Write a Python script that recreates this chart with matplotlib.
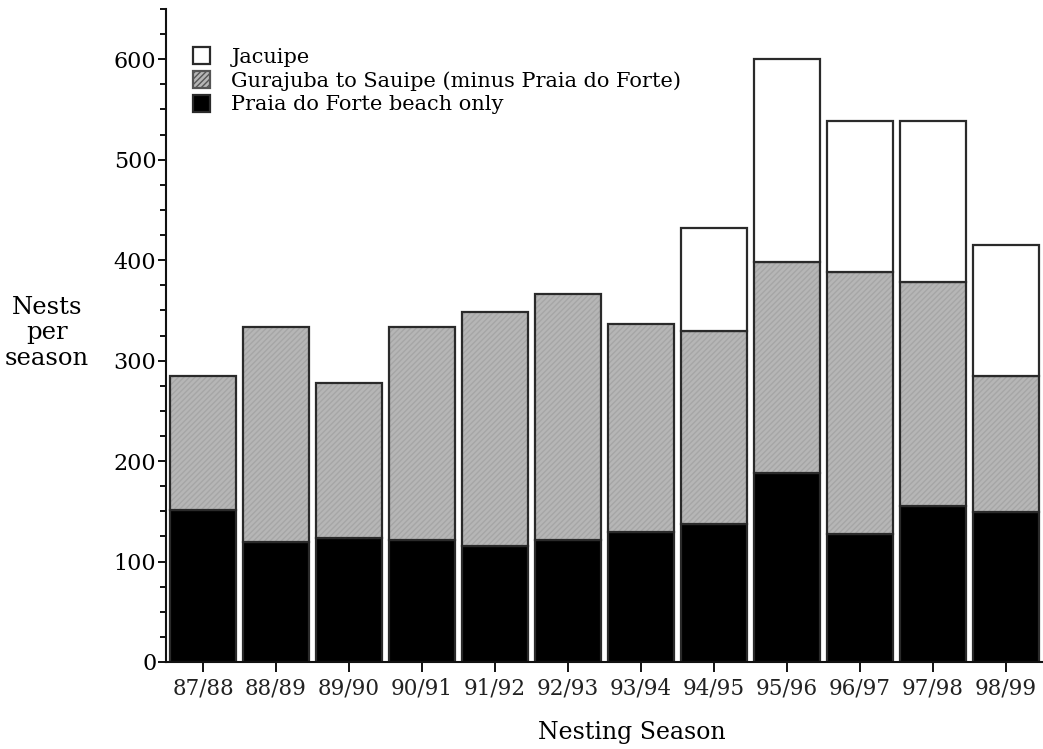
import matplotlib
matplotlib.use("Agg")
import matplotlib.pyplot as plt
from matplotlib.patches import Patch
from matplotlib.ticker import MultipleLocator
import numpy as np

seasons = ["87/88", "88/89", "89/90", "90/91", "91/92", "92/93",
           "93/94", "94/95", "95/96", "96/97", "97/98", "98/99"]
praia_do_forte = [151, 119, 123, 121, 115, 121, 129, 137, 188, 127, 155, 149]
gurajuba_sauipe = [134, 214, 155, 212, 233, 245, 207, 192, 210, 261, 223, 136]
jacuipe = [0, 0, 0, 0, 0, 0, 0, 103, 202, 151, 161, 130]

legend_labels = ["Jacuipe", "Gurajuba to Sauipe (minus Praia do Forte)",
                 "Praia do Forte beach only"]

plt.rcParams['font.family'] = ['DejaVu Serif']
plt.rcParams['hatch.linewidth'] = 1.0

fig = plt.figure(figsize=(10.43, 7.49), dpi=100)
ax = fig.add_axes([166/1043, 1 - 662/749, 1 - 166/1043, (662 - 9)/749])

x = np.arange(len(seasons))
w = 0.9
pdf = np.array(praia_do_forte)
gs = np.array(gurajuba_sauipe)
jc = np.array(jacuipe)

edge = '#2a2a2a'
lw = 1.6
ax.bar(x, pdf, w, color='black', edgecolor=edge, linewidth=lw, zorder=2)
ax.bar(x, gs, w, bottom=pdf, color='#b6b6b6', edgecolor='#a6a6a6',
       hatch='//////', linewidth=0, zorder=2)
ax.bar(x, gs, w, bottom=pdf, fill=False, edgecolor=edge, linewidth=lw, zorder=3)
mask = jc > 0
ax.bar(x[mask], jc[mask], w, bottom=(pdf + gs)[mask], color='white',
       edgecolor=edge, linewidth=lw, zorder=3)

ax.set_xlim((166 - 203) / 73, (1043 - 203) / 73)
ax.set_ylim(0, 650)
ax.set_xticks(x)
ax.set_xticklabels(seasons, fontsize=15.5, color='#222222')
ax.yaxis.set_minor_locator(MultipleLocator(25))
ax.set_yticks([0, 100, 200, 300, 400, 500, 600])
ax.tick_params(axis='y', which='major', labelsize=16, length=6, width=1.3, direction='out', pad=1)
ax.tick_params(axis='y', which='minor', length=4, width=1.3, direction='out')
ax.tick_params(axis='x', length=7, width=1.3, direction='out', pad=4)
for s in ['top', 'right']:
    ax.spines[s].set_visible(False)
for s in ['left', 'bottom']:
    ax.spines[s].set_linewidth(1.5)
    ax.spines[s].set_color('#111111')

fig.text(632/1043, 1 - 733/749, "Nesting Season", ha='center', va='center', fontsize=17)
fig.text(47/1043, 1 - 333/749, "Nests\nper\nseason", ha='center', va='center',
         fontsize=17.5, linespacing=1.15)

handles = [
    Patch(facecolor='white', edgecolor=edge, linewidth=1.6),
    Patch(facecolor='#b6b6b6', edgecolor='#555555', linewidth=1.6, hatch='//////'),
    Patch(facecolor='black', edgecolor=edge, linewidth=1.6),
]
leg = ax.legend(handles, legend_labels, loc='upper left',
                bbox_to_anchor=(0.021, 0.954), frameon=False, fontsize=15,
                handlelength=0.85, handleheight=0.85, handletextpad=1.0,
                labelspacing=0.2, borderaxespad=0)

fig.savefig("out.png", dpi=100)
